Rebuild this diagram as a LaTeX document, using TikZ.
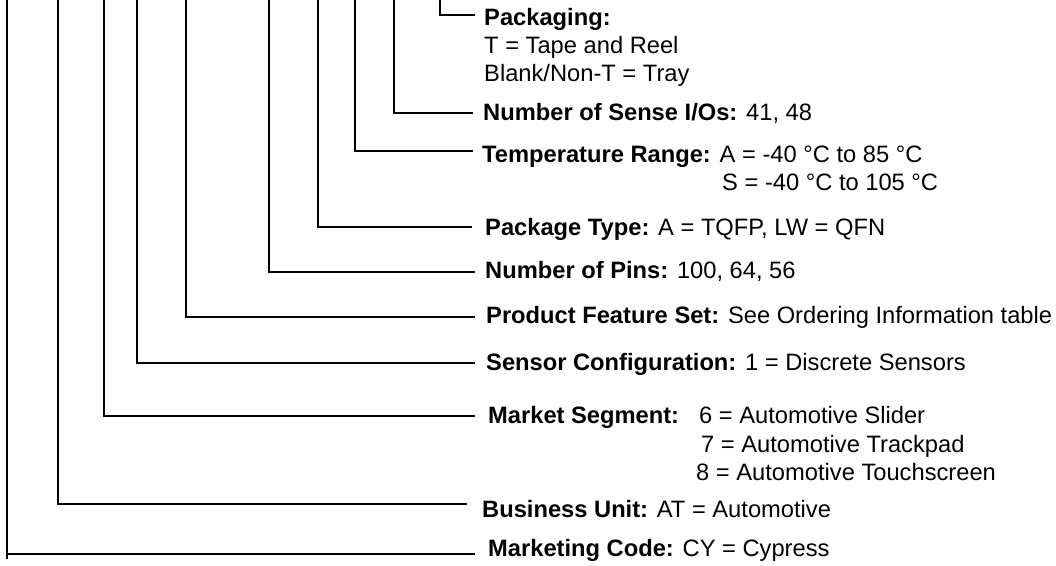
\documentclass[tikz,border=0pt]{standalone}
\usepackage{fontspec}
\setmainfont{Liberation Sans}
\begin{document}
\begin{tikzpicture}[x=1pt,y=-1pt,
		lbl/.style={anchor=base west,inner sep=0pt,font=\fontsize{23.7}{28}\selectfont},
		lead/.style={line width=2pt}]
		\useasboundingbox (0,0) rectangle (1056,565);
		% label texts
		\node[lbl] (pkg) at (484,25) {\textbf{Packaging:}};
		\node[lbl] (pkgT) at (484,53.3) {T = Tape and Reel};
		\node[lbl] (pkgN) at (484,81.7) {Blank/Non-T = Tray};
		\node[lbl] (sio) at (483,120.7) {\textbf{Number of Sense I/Os:} 41, 48};
		\node[lbl] (tmp) at (482,162.3) {\textbf{Temperature Range:} A = -40 °C to 85 °C};
		\node[lbl] (tmpS) at (722,190.7) {S = -40 °C to 105 °C};
		\node[lbl] (pty) at (485,235) {\textbf{Package Type:} A = TQFP, LW = QFN};
		\node[lbl] (pin) at (485,278.3) {\textbf{Number of Pins:} 100, 64, 56};
		\node[lbl] (pfs) at (486,323.3) {\textbf{Product Feature Set:} See Ordering Information table};
		\node[lbl] (sns) at (486,370) {\textbf{Sensor Configuration:} 1 = Discrete Sensors};
		\node[lbl] (seg) at (488,423.3) {\textbf{Market Segment:}};
		\node[lbl] (seg6) at (699,423.3) {6 = Automotive Slider};
		\node[lbl] (seg7) at (701,452.3) {7 = Automotive Trackpad};
		\node[lbl] (seg8) at (696,480) {8 = Automotive Touchscreen};
		\node[lbl] (bu) at (482,517.3) {\textbf{Business Unit:} AT = Automotive};
		\node[lbl] (mc) at (488,556.7) {\textbf{Marketing Code:} CY = Cypress};
		% leader lines
		\coordinate (pkgTop) at (440,0);
		\coordinate (pkgEnd) at (475,15);
		\coordinate (sioTop) at (394,0);
		\coordinate (sioEnd) at (473,113);
		\coordinate (tmpTop) at (355,0);
		\coordinate (tmpEnd) at (473,151);
		\coordinate (ptyTop) at (318,0);
		\coordinate (ptyEnd) at (472,227);
		\coordinate (pinTop) at (269,0);
		\coordinate (pinEnd) at (475,272);
		\coordinate (pfsTop) at (186,0);
		\coordinate (pfsEnd) at (475,317);
		\coordinate (snsTop) at (137,0);
		\coordinate (snsEnd) at (475,363);
		\coordinate (segTop) at (104,0);
		\coordinate (segEnd) at (475,416);
		\coordinate (buTop) at (58,0);
		\coordinate (buEnd) at (467,504);
		\coordinate (mcTop) at (7,0);
		\coordinate (mcBot) at (7,559);
		\coordinate (mcEnd) at (475,554);
		\draw[lead] (pkgTop) |- (pkgEnd);
		\draw[lead] (sioTop) |- (sioEnd);
		\draw[lead] (tmpTop) |- (tmpEnd);
		\draw[lead] (ptyTop) |- (ptyEnd);
		\draw[lead] (pinTop) |- (pinEnd);
		\draw[lead] (pfsTop) |- (pfsEnd);
		\draw[lead] (snsTop) |- (snsEnd);
		\draw[lead] (segTop) |- (segEnd);
		\draw[lead] (buTop) |- (buEnd);
		\draw[lead] (mcTop) -- (mcBot);
		\draw[lead] (mcTop |- mcEnd) -- (mcEnd);
\end{tikzpicture}
\end{document}
